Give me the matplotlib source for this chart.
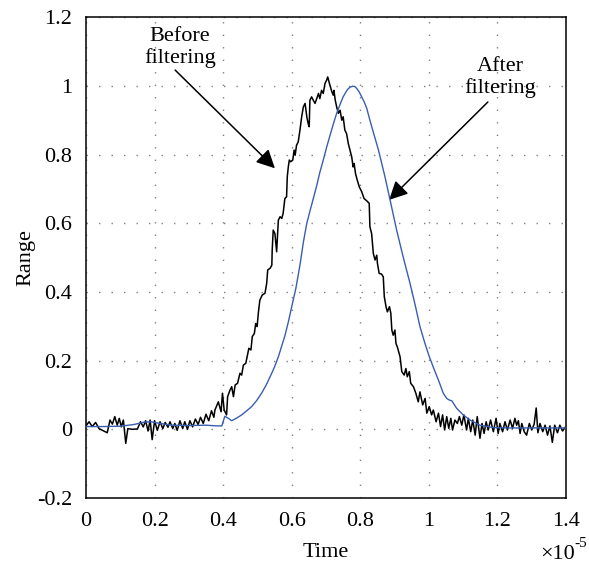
import matplotlib
matplotlib.use("Agg")
import matplotlib.pyplot as plt
from matplotlib.ticker import FuncFormatter, FixedLocator

plt.rcParams['font.family'] = ['Liberation Serif', 'DejaVu Serif']

SCALE = 1e-5  # time unit shown as x10^-5

# ---- "Before filtering" (raw, noisy) signal: time (x1e-5 s), range ----
before_t = [
    0.000, 0.009, 0.018, 0.028, 0.038, 0.052, 0.062, 0.070, 0.077, 0.084,
    0.091, 0.097, 0.103, 0.109, 0.116, 0.122, 0.135, 0.150, 0.159, 0.167,
    0.174, 0.181, 0.187, 0.193, 0.200, 0.208, 0.216, 0.224, 0.231, 0.239,
    0.245, 0.253, 0.259, 0.266, 0.274, 0.282, 0.288, 0.296, 0.303, 0.311,
    0.319, 0.327, 0.334, 0.342, 0.350, 0.358, 0.366, 0.373, 0.376, 0.386,
    0.394, 0.398, 0.403, 0.410, 0.413, 0.420, 0.425, 0.430, 0.435, 0.442,
    0.449, 0.454, 0.459, 0.466, 0.470, 0.475, 0.481, 0.485, 0.491, 0.495,
    0.499, 0.503, 0.507, 0.514, 0.522, 0.527, 0.530, 0.537, 0.542, 0.543,
    0.546, 0.551, 0.556, 0.561, 0.566, 0.571, 0.575, 0.580, 0.585, 0.587,
    0.590, 0.593, 0.597, 0.603, 0.607, 0.610, 0.614, 0.619, 0.624, 0.629,
    0.634, 0.639, 0.644, 0.648, 0.651, 0.653, 0.658, 0.663, 0.668, 0.673,
    0.678, 0.682, 0.687, 0.692, 0.697, 0.702, 0.705, 0.710, 0.717, 0.721,
    0.723, 0.727, 0.731, 0.736, 0.741, 0.746, 0.750, 0.755, 0.760, 0.765,
    0.770, 0.775, 0.779, 0.782, 0.786, 0.791, 0.797, 0.804, 0.811, 0.819,
    0.826, 0.828, 0.833, 0.838, 0.843, 0.848, 0.850, 0.855, 0.862, 0.867,
    0.870, 0.875, 0.879, 0.885, 0.889, 0.892, 0.896, 0.901, 0.904, 0.908,
    0.916, 0.921, 0.928, 0.933, 0.937, 0.943, 0.947, 0.955, 0.962, 0.969,
    0.974, 0.982, 0.989, 0.994, 1.001, 1.008, 1.013, 1.021, 1.028, 1.034,
    1.040, 1.046, 1.052, 1.058, 1.064, 1.069, 1.076, 1.083, 1.089, 1.096,
    1.102, 1.110, 1.115, 1.122, 1.128, 1.135, 1.141, 1.149, 1.155, 1.161,
    1.167, 1.173, 1.180, 1.188, 1.196, 1.202, 1.207, 1.215, 1.222, 1.229,
    1.237, 1.244, 1.251, 1.256, 1.261, 1.266, 1.271, 1.278, 1.285, 1.293,
    1.300, 1.307, 1.313, 1.318, 1.324, 1.332, 1.339, 1.346, 1.353, 1.360,
    1.367, 1.375, 1.382, 1.390, 1.397,
]
before_v = [
    0.010, 0.022, 0.008, 0.020, 0.002, -0.005, -0.010, 0.027, 0.015, 0.037,
    0.012, 0.032, 0.007, 0.027, -0.041, 0.002, 0.000, 0.001, 0.022, 0.007,
    0.025, -0.005, 0.027, -0.030, 0.025, -0.003, 0.022, 0.002, 0.020, 0.006,
    0.022, 0.002, 0.017, -0.003, 0.025, 0.002, 0.022, 0.000, 0.025, 0.007,
    0.030, 0.014, 0.035, 0.017, 0.044, 0.025, 0.054, 0.035, 0.056, 0.080,
    0.051, 0.105, 0.056, 0.042, 0.095, 0.114, 0.124, 0.095, 0.129, 0.134,
    0.163, 0.158, 0.187, 0.192, 0.211, 0.236, 0.231, 0.270, 0.279, 0.308,
    0.299, 0.342, 0.376, 0.391, 0.396, 0.425, 0.464, 0.469, 0.478, 0.520,
    0.580, 0.570, 0.517, 0.609, 0.619, 0.614, 0.629, 0.672, 0.677, 0.735,
    0.764, 0.784, 0.779, 0.784, 0.813, 0.798, 0.827, 0.837, 0.871, 0.910,
    0.939, 0.949, 0.910, 0.890, 0.881, 0.958, 0.968, 0.958, 0.949, 0.963,
    0.978, 0.963, 0.987, 0.978, 1.007, 1.017, 1.026, 1.007, 0.983, 0.973,
    0.987, 0.958, 0.939, 0.920, 0.929, 0.900, 0.910, 0.871, 0.861, 0.832,
    0.813, 0.793, 0.764, 0.774, 0.745, 0.726, 0.706, 0.692, 0.672, 0.665,
    0.658, 0.590, 0.570, 0.512, 0.493, 0.507, 0.483, 0.454, 0.452, 0.444,
    0.386, 0.357, 0.342, 0.357, 0.338, 0.289, 0.274, 0.289, 0.250, 0.240,
    0.211, 0.168, 0.158, 0.177, 0.153, 0.168, 0.134, 0.124, 0.105, 0.080,
    0.109, 0.071, 0.090, 0.047, 0.066, 0.042, 0.056, 0.022, 0.047, 0.008,
    0.042, -0.002, 0.037, 0.003, 0.032, -0.002, 0.027, 0.017, 0.037, 0.012,
    0.042, -0.002, 0.032, -0.007, 0.027, -0.017, 0.037, -0.026, 0.017, -0.012,
    0.022, -0.002, 0.027, -0.007, 0.032, -0.012, 0.017, -0.007, 0.022, -0.002,
    0.027, 0.003, 0.032, 0.012, 0.025, -0.012, 0.017, -0.007, -0.017, 0.017,
    -0.002, 0.015, 0.062, -0.010, 0.017, -0.007, 0.012, -0.017, 0.010, -0.038,
    0.012, -0.010, 0.012, -0.005, 0.005,
]

# ---- "After filtering" (smoothed) signal ----
after_t = [
    0.000, 0.050, 0.100, 0.140, 0.170, 0.190, 0.210, 0.250, 0.300, 0.350,
    0.380, 0.396, 0.405, 0.415, 0.425, 0.440, 0.454, 0.470, 0.483, 0.498,
    0.512, 0.525, 0.537, 0.550, 0.561, 0.570, 0.580, 0.590, 0.600, 0.612,
    0.624, 0.634, 0.644, 0.653, 0.663, 0.673, 0.682, 0.692, 0.702, 0.712,
    0.722, 0.731, 0.741, 0.750, 0.758, 0.765, 0.772, 0.778, 0.784, 0.790,
    0.797, 0.804, 0.812, 0.819, 0.828, 0.838, 0.853, 0.872, 0.887, 0.906,
    0.925, 0.945, 0.960, 0.974, 0.988, 1.000, 1.014, 1.028, 1.042, 1.052,
    1.060, 1.067, 1.081, 1.100, 1.120, 1.149, 1.188, 1.230, 1.300, 1.350,
    1.400,
]
after_v = [
    0.008, 0.008, 0.009, 0.014, 0.021, 0.022, 0.018, 0.012, 0.011, 0.012,
    0.010, 0.010, 0.038, 0.032, 0.025, 0.033, 0.042, 0.055, 0.066, 0.084,
    0.105, 0.128, 0.153, 0.182, 0.211, 0.240, 0.272, 0.312, 0.357, 0.410,
    0.478, 0.545, 0.600, 0.635, 0.672, 0.710, 0.748, 0.784, 0.822, 0.857,
    0.891, 0.920, 0.946, 0.968, 0.982, 0.992, 0.997, 0.999, 0.998, 0.992,
    0.982, 0.968, 0.952, 0.934, 0.900, 0.865, 0.813, 0.735, 0.667, 0.580,
    0.502, 0.425, 0.362, 0.299, 0.252, 0.215, 0.178, 0.143, 0.105, 0.090,
    0.085, 0.083, 0.061, 0.042, 0.027, 0.012, 0.005, 0.004, 0.004, 0.004,
    0.004,
]

x_ticks = [0, 0.2, 0.4, 0.6, 0.8, 1.0, 1.2, 1.4]
y_ticks = [-0.2, 0, 0.2, 0.4, 0.6, 0.8, 1.0, 1.2]

FS = 16

fig = plt.figure(figsize=(5.89, 5.67), dpi=100)
ax = fig.add_axes([0.146, 0.1217, 0.815, 0.848])

ax.plot([t * SCALE for t in before_t], before_v, color='black', lw=1.1, zorder=3)
ax.plot([t * SCALE for t in after_t], after_v, color='#3a5db0', lw=1.0, zorder=4)

ax.set_xlim(0, 1.4 * SCALE)
ax.set_ylim(-0.2, 1.2)
ax.xaxis.set_major_locator(FixedLocator([v * SCALE for v in x_ticks]))
ax.yaxis.set_major_locator(FixedLocator(y_ticks))
ax.xaxis.set_major_formatter(FuncFormatter(lambda v, p: f"{round(v / SCALE, 6):g}"))
ax.yaxis.set_major_formatter(FuncFormatter(lambda v, p: f"{round(v, 6):g}"))
ax.tick_params(axis='both', length=0, labelsize=FS, colors='black')
ax.tick_params(axis='x', pad=10)
ax.tick_params(axis='y', pad=10)

ax.grid(True, color='#808080', lw=1.0, linestyle=(0, (1, 8)))
for s in ax.spines.values():
    s.set_linewidth(1.1)
    s.set_color('black')

ax.set_xlabel('Time', fontsize=FS, labelpad=9)
ax.set_ylabel('Range', fontsize=FS, labelpad=1)
fig.text(0.976, 0.006, '\u00d710', ha='right', va='bottom', fontsize=FS)
fig.text(0.976, 0.030, '-5', ha='left', va='bottom', fontsize=11)

# annotations
ax.text(0.274 * SCALE, 1.112, 'Before\nfiltering', ha='center', va='center',
        fontsize=FS, linespacing=1.15)
ax.annotate('', xy=(0.551 * SCALE, 0.760), xytext=(0.26 * SCALE, 1.046),
            arrowprops=dict(arrowstyle='-|>', color='black', lw=1.1,
                            mutation_scale=28, shrinkA=0, shrinkB=0))
ax.text(1.207 * SCALE, 1.025, 'After\nfiltering', ha='center', va='center',
        fontsize=FS, linespacing=1.15)
ax.annotate('', xy=(0.884 * SCALE, 0.668), xytext=(1.172 * SCALE, 0.953),
            arrowprops=dict(arrowstyle='-|>', color='black', lw=1.1,
                            mutation_scale=28, shrinkA=0, shrinkB=0))

fig.savefig('out.png', dpi=100)
